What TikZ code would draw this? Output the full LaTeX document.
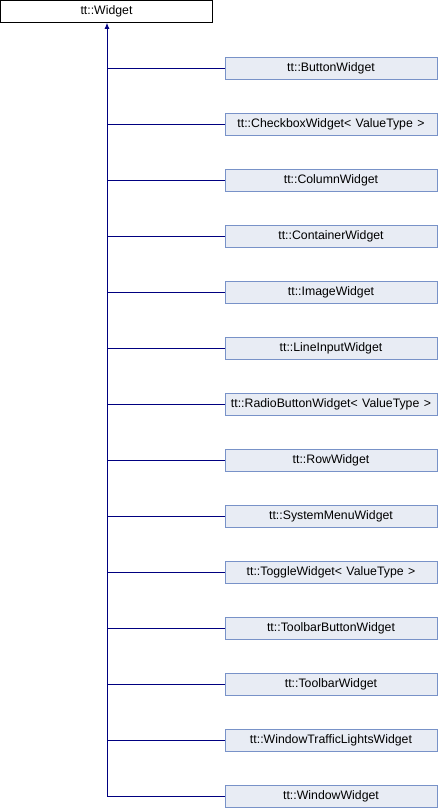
\documentclass[tikz,border=0pt]{standalone}
\usepackage{fontspec}
\setmainfont{Liberation Sans}
\usetikzlibrary{arrows.meta}
\definecolor{edgeblue}{RGB}{0,0,128}
\definecolor{boxfill}{RGB}{232,236,244}
\definecolor{boxdraw}{RGB}{120,146,200}
\newcommand{\vt}{<\hspace{1pt} ValueType\hspace{1pt} >}
\begin{document}
\begin{tikzpicture}[x=1pt,y=1pt,
  base/.style={draw=black,fill=white,line width=0.8pt,minimum width=212pt,minimum height=22pt,inner sep=0pt,font=\fontsize{12.3}{14}\selectfont},
  child/.style={draw=boxdraw,fill=boxfill,line width=0.8pt,minimum width=212pt,minimum height=22pt,inner sep=0pt,font=\fontsize{12.3}{14}\selectfont},
  link/.style={draw=edgeblue,line width=0.8pt}]
\useasboundingbox (0,0) rectangle (438,-808);
\node[base] (w) at (106.5,-11.5) {tt::Widget};
\foreach \i/\t in {0/tt::ButtonWidget,1/{tt::CheckboxWidget\vt},2/tt::ColumnWidget,3/tt::ContainerWidget,4/tt::ImageWidget,5/tt::LineInputWidget,6/{tt::RadioButtonWidget\vt},7/tt::RowWidget,8/tt::SystemMenuWidget,9/{tt::ToggleWidget\vt},10/tt::ToolbarButtonWidget,11/tt::ToolbarWidget,12/tt::WindowTrafficLightsWidget,13/tt::WindowWidget}{
  \node[child] (c\i) at (331,{-68-56*\i}) {\t};
  \coordinate (k\i) at (107,{-68-56*\i});
  \draw[link] (c\i.west) -- (k\i);
}
\draw[link,-{Latex[length=6pt,width=5pt]}] (k13) -- (w.south -| k13);
\end{tikzpicture}
\end{document}
